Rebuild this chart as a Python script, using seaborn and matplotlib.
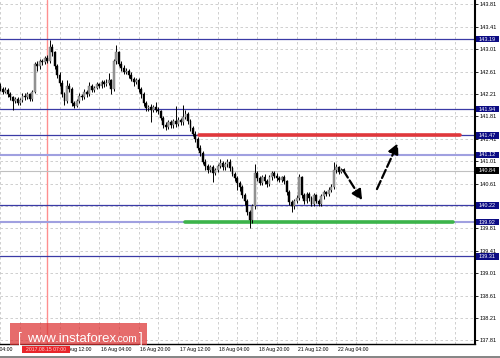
import matplotlib
matplotlib.use("Agg")
import matplotlib.pyplot as plt
import matplotlib.transforms as mtransforms
from matplotlib.patches import Rectangle
from matplotlib.lines import Line2D
import pandas as pd
import seaborn as sns

# ---------------- data (hourly candles) ----------------
opens = [142.35,142.30,142.25,142.28,142.20,142.15,142.08,142.12,142.05,142.10,
         142.18,142.15,142.20,142.12,142.25,142.75,142.70,142.80,142.78,142.85,
         142.80,143.05,142.95,142.70,142.55,142.40,142.20,142.08,142.35,142.30,
         142.05,142.00,142.08,142.18,142.15,142.25,142.20,142.35,142.28,142.32,
         142.38,142.35,142.42,142.38,142.40,142.45,142.30,142.80,142.95,142.75,
         142.68,142.60,142.62,142.55,142.48,142.42,142.45,142.30,142.20,142.05,
         141.95,141.98,141.92,141.98,141.93,141.90,141.78,141.65,141.62,141.70,
         141.65,141.72,141.68,141.75,141.70,141.80,141.85,141.72,141.60,141.50,
         141.40,141.25,141.15,141.00,140.92,140.85,140.90,140.80,140.85,140.92,
         140.98,140.90,140.95,141.00,140.88,140.78,140.70,140.62,140.55,140.40,
         140.30,140.10,139.95,140.20,140.80,140.70,140.62,140.72,140.65,140.60,
         140.72,140.80,140.75,140.70,140.68,140.72,140.65,140.45,140.28,140.20,
         140.30,140.35,140.72,140.40,140.30,140.42,140.35,140.25,140.40,140.30,
         140.25,140.38,140.45,140.42,140.50,140.55,140.85,140.90,140.82,140.86]
highs = [142.40,142.34,142.33,142.31,142.24,142.18,142.16,142.15,142.14,142.22,
         142.22,142.24,142.23,142.28,142.78,142.80,142.84,142.83,142.88,142.90,
         143.17,143.10,142.98,142.74,142.60,142.45,142.25,142.46,142.40,142.33,
         142.09,142.12,142.22,142.21,142.29,142.28,142.42,142.38,142.35,142.42,
         142.41,142.46,142.45,142.47,142.58,142.48,142.84,143.08,142.98,142.80,
         142.72,142.68,142.66,142.60,142.52,142.50,142.49,142.34,142.24,142.08,
         142.02,142.03,142.02,142.06,141.97,141.93,141.82,141.70,141.74,141.75,
         141.76,142.00,141.79,141.78,142.01,141.92,141.88,141.76,141.64,141.54,
         141.44,141.30,141.19,141.05,140.96,140.94,140.94,140.89,140.96,141.04,
         141.02,140.99,141.05,141.04,140.92,140.82,140.74,140.66,140.58,140.44,
         140.34,140.14,140.24,140.95,140.84,140.74,140.76,140.78,140.69,140.76,
         140.84,140.84,140.79,140.74,140.75,140.76,140.68,140.49,140.32,140.34,
         140.40,140.78,140.75,140.44,140.46,140.46,140.39,140.44,140.43,140.34,
         140.42,140.49,140.48,140.54,140.60,140.99,140.95,140.93,140.89,140.88]
lows = [142.26,142.21,142.22,142.16,142.10,141.92,142.04,142.01,142.02,142.07,
        142.10,142.12,142.08,142.09,142.22,142.62,142.66,142.72,142.74,142.76,
        142.76,142.88,142.66,142.50,142.36,142.16,142.02,142.04,142.24,142.00,
        141.95,141.97,142.05,142.10,142.12,142.16,142.17,142.24,142.25,142.29,
        142.31,142.32,142.34,142.35,142.37,142.20,142.27,142.74,142.70,142.62,
        142.56,142.56,142.50,142.44,142.36,142.38,142.25,142.14,142.00,141.90,
        141.90,141.71,141.88,141.89,141.86,141.74,141.60,141.56,141.58,141.60,
        141.61,141.62,141.64,141.65,141.66,141.76,141.68,141.55,141.45,141.35,
        141.20,141.10,140.95,140.86,140.80,140.81,140.64,140.76,140.81,140.88,
        140.86,140.86,140.91,140.84,140.74,140.66,140.50,140.48,140.35,140.22,
        140.05,139.81,139.90,140.16,140.66,140.58,140.58,140.61,140.55,140.56,
        140.68,140.71,140.66,140.64,140.64,140.60,140.40,140.22,140.10,140.16,
        140.26,140.31,140.36,140.24,140.26,140.30,140.20,140.21,140.26,140.20,
        140.21,140.34,140.38,140.39,140.46,140.52,140.80,140.78,140.79,140.81]
closes = [142.30,142.25,142.28,142.20,142.15,142.08,142.12,142.05,142.10,142.18,
          142.15,142.20,142.12,142.25,142.75,142.70,142.80,142.78,142.85,142.80,
          143.05,142.95,142.70,142.55,142.40,142.20,142.08,142.35,142.30,142.05,
          142.00,142.08,142.18,142.15,142.25,142.20,142.35,142.28,142.32,142.38,
          142.35,142.42,142.38,142.40,142.45,142.30,142.80,142.95,142.75,142.68,
          142.60,142.62,142.55,142.48,142.42,142.45,142.30,142.20,142.05,141.95,
          141.98,141.92,141.98,141.93,141.90,141.78,141.65,141.62,141.70,141.65,
          141.72,141.68,141.75,141.70,141.80,141.85,141.72,141.60,141.50,141.40,
          141.25,141.15,141.00,140.92,140.85,140.90,140.80,140.85,140.92,140.98,
          140.90,140.95,141.00,140.88,140.78,140.70,140.62,140.55,140.40,140.30,
          140.10,139.95,140.20,140.80,140.70,140.62,140.72,140.65,140.60,140.72,
          140.80,140.75,140.70,140.68,140.72,140.65,140.45,140.28,140.20,140.30,
          140.35,140.72,140.40,140.30,140.42,140.35,140.25,140.40,140.30,140.25,
          140.38,140.45,140.42,140.50,140.55,140.85,140.90,140.82,140.86,140.84]

time_tick_bars = [-8, 8, 24, 40, 56, 72, 88, 104, 120, 136]
time_tick_labels = ["14 Aug 04:00", "", "15 Aug 12:00", "16 Aug 04:00",
                    "16 Aug 20:00", "17 Aug 12:00", "18 Aug 04:00", "18 Aug 20:00",
                    "21 Aug 12:00", "22 Aug 04:00"]
price_ticks = [143.81, 143.41, 143.01, 142.61, 142.21, 141.81, 141.41, 141.01,
               140.61, 140.21, 139.81, 139.41, 139.01, 138.61, 138.21, 137.81]
hidden_price_ticks = [140.21]
level_prices = [143.19, 141.94, 141.47, 141.12, 140.22, 139.92, 139.31]
level_kinds = ["dark", "dark", "dark", "light", "dark", "light", "dark"]
current_price = 140.84
resistance_price = 141.47
resistance_bars = [80.5, 186.0]
support_price = 139.92
support_bars = [74.8, 183.3]
marker_bar = 19
marker_label = "2017.08.15 07:00"
arrow_down = [(138.8, 140.85), (146.5, 140.31)]
arrow_up = [(152.5, 140.51), (161.0, 141.33)]

df = pd.DataFrame({"open": opens, "high": highs, "low": lows, "close": closes})
df["bar"] = range(len(df))

# ---------------- figure ----------------
sns.set_theme(style="white")
plt.rcParams["font.family"] = ["Liberation Sans", "DejaVu Sans"]

W, H = 500, 358
fig = plt.figure(figsize=(W / 100, H / 100), dpi=100)
fig.patch.set_facecolor("white")
ax = fig.add_axes([0, 1 - 344 / H, 475 / W, 344 / H])
ax.set_facecolor("white")

ax.set_xlim(-0.097, 192.2)
ax.set_ylim(137.744, 143.887)

# grid
for b in range(0, 193, 8):
    ax.axvline(b, color="#c8c8c8", lw=0.6, ls=(0, (3, 3)), zorder=0)
for p in price_ticks:
    ax.axhline(p, color="#c8c8c8", lw=0.6, ls=(0, (3, 3)), zorder=0)

# marker vertical line
ax.axvline(marker_bar, color="#ff8f8f", lw=1.0, zorder=1)

# level lines
for p, kind in zip(level_prices, level_kinds):
    if kind == "dark":
        ax.axhline(p, color="#3a3aa6", lw=0.9, zorder=1)
    else:
        ax.axhline(p, color="#a0a0e0", lw=1.5, zorder=1)
ax.axhline(current_price, color="#c0c0c0", lw=0.8, zorder=1)

# resistance / support thick lines
sns.lineplot(x=resistance_bars, y=[resistance_price] * 2, ax=ax, color="#e0383c", lw=2.6, zorder=2)
sns.lineplot(x=support_bars, y=[support_price] * 2, ax=ax, color="#3cb44a", lw=2.6, zorder=2)

# candles
up = df[df["close"] >= df["open"]]
dn = df[df["close"] < df["open"]]
ax.vlines(df["bar"], df["low"], df["high"], color="black", lw=0.7, zorder=3)
ax.bar(up["bar"], (up["close"] - up["open"]).clip(lower=0.01), bottom=up["open"],
       width=0.75, color="#9c9c9c", edgecolor="#6a6a6a", linewidth=0.3, zorder=4)
ax.bar(dn["bar"], (dn["open"] - dn["close"]).clip(lower=0.01), bottom=dn["close"],
       width=0.75, color="black", edgecolor="black", linewidth=0.3, zorder=4)

# arrows (dashed)
for (x0, y0), (x1, y1) in [arrow_down, arrow_up]:
    ax.annotate("", xy=(x1, y1), xytext=(x0, y0),
                arrowprops=dict(arrowstyle="-|>,head_length=0.5,head_width=0.25",
                                color="black", lw=1.6, linestyle=(0, (4, 1.5)),
                                shrinkA=0, shrinkB=0), zorder=6)

# spines / ticks
for s in ["top", "left"]:
    ax.spines[s].set_visible(False)
ax.spines["right"].set_color("black")
ax.spines["right"].set_linewidth(1.5)
ax.spines["bottom"].set_color("black")
ax.spines["bottom"].set_linewidth(1.0)

ax.yaxis.tick_right()
ax.set_yticks(price_ticks)
ax.set_yticklabels(["" if p in hidden_price_ticks else f"{p:.2f}" for p in price_ticks],
                   fontsize=4.0, color="black")
ax.tick_params(axis="y", length=2, width=0.6, pad=1, colors="black")
ax.set_xticks([b for b in time_tick_bars if b >= 0])
ax.set_xticklabels([])
ax.tick_params(axis="x", length=2, width=0.6, direction="out", colors="black")

# time labels
tr = mtransforms.blended_transform_factory(ax.transData, fig.transFigure)
for b, lab in zip(time_tick_bars, time_tick_labels):
    if lab:
        ax.text(b + 0.7, 1 - 349.5 / H, lab, transform=tr, ha="left", va="center",
                fontsize=3.7, color="black", clip_on=False)

# price boxes on right axis
trr = mtransforms.blended_transform_factory(ax.transAxes, ax.transData)
box_w = 23 / 475
box_h = 6.4 / 56
for p in level_prices + [current_price]:
    fc = "black" if p == current_price else "#0c0c84"
    ax.add_patch(Rectangle((1.0015, p - box_h / 2), box_w, box_h, transform=trr,
                           facecolor=fc, edgecolor="none", clip_on=False, zorder=10))
    ax.text(1.0015 + box_w / 2, p, f"{p:.2f}", transform=trr, ha="center", va="center",
            fontsize=4.0, color="white", clip_on=False, zorder=11)

# marker date box on time axis
fig.patches.append(Rectangle((22 / W, 1 - 353 / H), 48 / W, 7.5 / H, transform=fig.transFigure,
                             facecolor="#e8262b", edgecolor="none", zorder=10))
fig.text(46 / W, 1 - 349.5 / H, marker_label, ha="center", va="center",
         fontsize=3.7, color="#ffd6d6", zorder=12)

# watermark
fig.patches.append(Rectangle((10 / W, 1 - 345 / H), 137 / W, 22 / H, transform=fig.transFigure,
                             facecolor="#dd3333", alpha=0.72, edgecolor="none", zorder=9))
fig.text(18 / W, 1 - 342.5 / H, "[", fontsize=10, color="white",
         va="baseline", ha="left", zorder=12)
fig.text(27 / W, 1 - 342 / H, "www.instaforex", fontsize=9.5, color="white",
         va="baseline", ha="left", zorder=12)
fig.text(115 / W, 1 - 342 / H, ".com", fontsize=7.3, color="white",
         va="baseline", ha="left", zorder=12)
fig.text(139 / W, 1 - 342.5 / H, "]", fontsize=10, color="white",
         va="baseline", ha="left", zorder=12)

# outer bottom border
fig.lines.append(Line2D([0, 1], [0.7 / H, 0.7 / H], transform=fig.transFigure,
                        color="#707070", lw=1.2))

fig.savefig("out.png", dpi=100)
